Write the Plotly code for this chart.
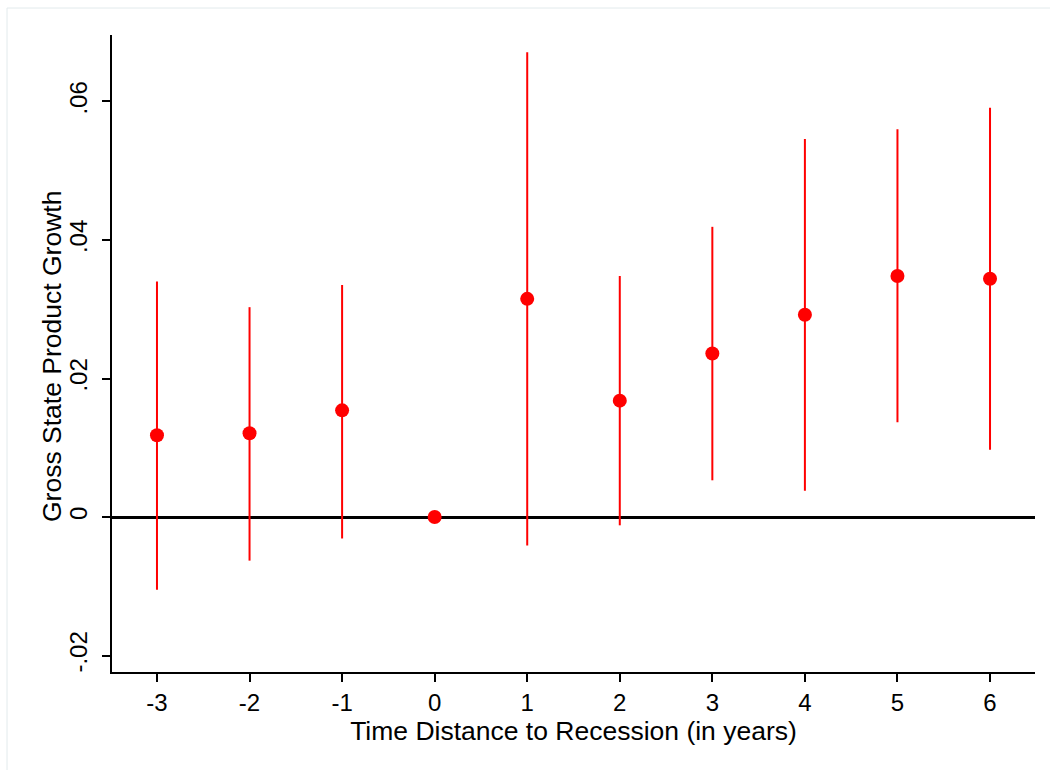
import plotly.graph_objects as go

years = [-3, -2, -1, 0, 1, 2, 3, 4, 5, 6]
x_ticktext = ["-3", "-2", "-1", "0", "1", "2", "3", "4", "5", "6"]
estimate = [0.0118, 0.0121, 0.0154, 0.0, 0.0315, 0.0168, 0.0236, 0.0292, 0.0348, 0.0344]
ci_upper = [0.0340, 0.0303, 0.0335, 0.0, 0.0671, 0.0348, 0.0419, 0.0546, 0.0560, 0.0591]
ci_lower = [-0.0105, -0.0063, -0.0031, 0.0, -0.0041, -0.0012, 0.0053, 0.0038, 0.0137, 0.0097]

y_tickvals = [-0.02, 0, 0.02, 0.04, 0.06]
y_ticktext = ["-.02", "0", ".02", ".04", ".06"]

err_plus = [u - e for u, e in zip(ci_upper, estimate)]
err_minus = [e - l for e, l in zip(estimate, ci_lower)]

FONT = "Liberation Sans, Arial, Helvetica, sans-serif"
L, R, T, B = 112, 15, 35, 98
PW, PH = 1050 - L - R, 770 - T - B

fig = go.Figure()
fig.add_trace(go.Scatter(
    x=years, y=estimate, mode="markers",
    marker=dict(color="#ff0000", size=14),
    error_y=dict(type="data", symmetric=False, array=err_plus, arrayminus=err_minus,
                 color="#ff0000", thickness=2, width=0),
    showlegend=False,
))

fig.update_layout(
    width=1050, height=770,
    margin=dict(l=L, r=R, t=T, b=B),
    paper_bgcolor="white", plot_bgcolor="white",
    font=dict(family=FONT, size=24, color="black"),
    xaxis=dict(
        range=[-3.486, 6.486], tickvals=years, ticktext=x_ticktext,
        ticks="outside", ticklen=8,
        tickwidth=1.5, tickcolor="black", showline=True, linecolor="black",
        linewidth=1.5, showgrid=False, zeroline=False,
        title=dict(text="Time Distance to Recession (in years)", standoff=3,
                   font=dict(size=26.5)),
        tickfont=dict(size=24),
    ),
    yaxis=dict(
        range=[-0.02238, 0.0696], tickvals=y_tickvals, ticktext=y_ticktext,
        ticks="outside", ticklen=8, tickwidth=1.5, tickcolor="black",
        showline=True, linecolor="black", linewidth=1.5, showgrid=False,
        zeroline=True, zerolinecolor="black", zerolinewidth=2.5,
        tickangle=-90, ticklabelstandoff=6,
        tickfont=dict(size=24),
    ),
    annotations=[dict(text="Gross State Product Growth", xref="paper", yref="paper",
                      x=(52 - L) / PW, y=(770 - B - 357) / PH, textangle=-90,
                      xanchor="center", yanchor="middle", showarrow=False,
                      font=dict(size=26.5))],
    shapes=[dict(type="rect", xref="paper", yref="paper",
                 x0=(7 - L) / PW, x1=1.3, y0=-0.5, y1=1 + 27 / PH,
                 line=dict(color="#e2eaec", width=1), layer="below")],
)

fig.write_html("out.html")
